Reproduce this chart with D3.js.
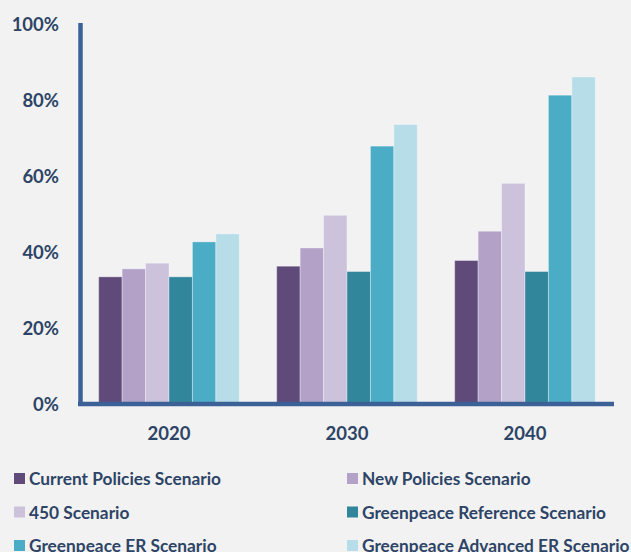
<!DOCTYPE html>
<html lang="en">
<head>
<meta charset="UTF-8">
<title>Scenario share chart</title>
<script src="https://d3js.org/d3.v7.min.js"></script>
<style>
    body { margin: 0; background: #f2f2f2; }
    svg { display: block; }
    .tick-label, .legend text {
        font-family: Lato, "Open Sans", sans-serif;
        font-weight: bold;
        fill: #2d4466;
    }
</style>
</head>
<body>
<script>
    // categories and series
    const years = ["2020", "2030", "2040"];
    const scenarios = [
        "Current Policies Scenario",
        "New Policies Scenario",
        "450 Scenario",
        "Greenpeace Reference Scenario",
        "Greenpeace ER Scenario",
        "Greenpeace Advanced ER Scenario"
    ];
    const colors = ["#5f4a7a", "#b3a1c8", "#ccc2dc", "#31869b", "#4bacc6", "#b7dde8"];

    // values in % per scenario, one per year
    const currentPolicies = [33.2, 36.0, 37.5];
    const newPolicies = [35.3, 40.8, 45.2];
    const scenario450 = [36.8, 49.4, 57.8];
    const gpReference = [33.2, 34.6, 34.6];
    const gpER = [42.4, 67.6, 81.0];
    const gpAdvancedER = [44.5, 73.3, 85.8];
    const seriesValues = [currentPolicies, newPolicies, scenario450, gpReference, gpER, gpAdvancedER];

    const yTicks = [0, 20, 40, 60, 80, 100];

    const width = 631, height = 552;
    const svg = d3.select("body").append("svg")
        .attr("width", width)
        .attr("height", height);

    const x = d3.scaleBand().domain(years).range([80, 614]).paddingInner(0.21).paddingOuter(0.105);
    const x1 = d3.scaleBand().domain(d3.range(scenarios.length)).range([0, x.bandwidth()]);
    const y = d3.scaleLinear().domain([0, 100]).range([403, 23]);

    // bars
    const groups = svg.selectAll(".group")
        .data(years)
        .enter().append("g")
        .attr("transform", d => "translate(" + x(d) + ",0)");

    groups.selectAll("rect")
        .data((d, i) => seriesValues.map((s, k) => ({ k: k, v: s[i] })))
        .enter().append("rect")
        .attr("x", d => x1(d.k))
        .attr("width", x1.bandwidth())
        .attr("y", d => y(d.v))
        .attr("height", d => y(0) - y(d.v))
        .attr("fill", d => colors[d.k])
        .attr("stroke", "rgba(255,255,255,0.35)")
        .attr("stroke-width", 1);

    // axis lines
    svg.append("line")
        .attr("x1", 80.5).attr("x2", 80.5)
        .attr("y1", y(100)).attr("y2", y(0) + 3)
        .attr("stroke", "#3b6196").attr("stroke-width", 4.5);
    svg.append("line")
        .attr("x1", 78).attr("x2", 614)
        .attr("y1", y(0) + 1).attr("y2", y(0) + 1)
        .attr("stroke", "#3b6196").attr("stroke-width", 4.5);

    // y tick labels
    svg.selectAll(".ylab")
        .data(yTicks)
        .enter().append("text")
        .attr("class", "tick-label")
        .attr("x", 59)
        .attr("y", d => y(d) + 8)
        .attr("text-anchor", "end")
        .attr("font-size", 18.5)
        .text(d => d + "%");

    // x tick labels
    svg.selectAll(".xlab")
        .data(years)
        .enter().append("text")
        .attr("class", "tick-label")
        .attr("x", d => x(d) + x.bandwidth() / 2)
        .attr("y", 440)
        .attr("text-anchor", "middle")
        .attr("font-size", 18.5)
        .text(d => d);

    // legend, two columns
    const legend = svg.selectAll(".legend")
        .data(scenarios)
        .enter().append("g")
        .attr("class", "legend")
        .attr("transform", (d, i) => "translate(" + (i % 2 ? 347 : 14) + "," + (473 + Math.floor(i / 2) * 33.5) + ")");

    legend.append("rect")
        .attr("width", 11).attr("height", 11)
        .attr("fill", (d, i) => colors[i]);

    legend.append("text")
        .attr("x", 15)
        .attr("y", 12)
        .attr("font-size", 17.3)
        .text(d => d);
</script>
</body>
</html>
